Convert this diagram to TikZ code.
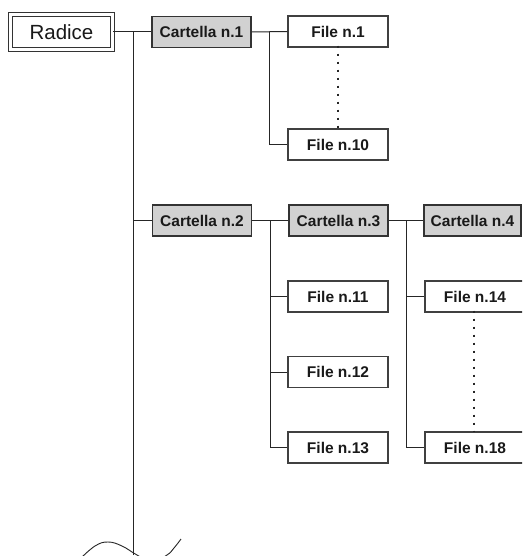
\documentclass[tikz,border=0pt]{standalone}
\usepackage{fontspec}
\setmainfont{Liberation Sans}
\begin{document}
\begin{tikzpicture}[x=1pt,y=-1pt,
  conn/.style={draw=black!85, line width=1pt},
  dotline/.style={draw=black!85, line width=2pt, dash pattern=on 2pt off 6pt},
  folder/.style={draw=black!80, line width=1.9pt, fill=black!18, minimum width=99pt, minimum height=31pt, inner sep=0pt, font=\fontsize{15.5}{17}\selectfont\bfseries, text=black!90},
  filebox/.style={draw=black!75, line width=1.4pt, fill=white, minimum width=100pt, minimum height=31pt, inner sep=0pt, font=\fontsize{15.5}{17}\selectfont\bfseries, text=black!90},
  rootbox/.style={draw=black!80, line width=0.9pt, double=white, double distance=2.6pt, minimum width=102pt, minimum height=35pt, inner sep=0pt, font=\fontsize{20.5}{22}\selectfont, text=black!90}
]
\useasboundingbox (0,0) rectangle (522,556);
\clip (0,0) rectangle (522,556);
\fill[white] (0,0) rectangle (522,556);

% nodes
\node[rootbox] (R) at (61.5,32) {Radice};
\node[folder] (C1) at (201.5,32) {Cartella n.1};
\node[filebox] (F1) at (338,31.5) {File n.1};
\node[filebox] (F10) at (338,144.5) {File n.10};
\node[folder] (C2) at (202,220.5) {Cartella n.2};
\node[folder] (C3) at (338.5,220.5) {Cartella n.3};
\node[folder, minimum width=97pt] (C4) at (472.5,220.5) {Cartella n.4};
\node[filebox] (F11) at (338,296.5) {File n.11};
\node[filebox] (F12) at (338,372) {File n.12};
\node[filebox] (F13) at (338,447.5) {File n.13};
\node[filebox] (F14) at (475,296.5) {File n.14};
\node[filebox] (F18) at (475,447.5) {File n.18};

% junction coordinates
\coordinate (tbot) at (133,555);
\coordinate (j1) at (269,32);
\coordinate (j2) at (270,220.5);
\coordinate (j3) at (406,220.5);

% trunk
\draw[conn] (R.east) -- (C1.west);
\draw[conn] (tbot) -- (tbot |- R.east);
\draw[conn] (tbot |- C2.west) -- (C2.west);

% Cartella n.1 branch
\draw[conn] (C1.east) -- (F1.west);
\draw[conn] (j1) |- (F10.west);
\draw[dotline] ([yshift=2pt]F1.south) -- (F10.north);

% Cartella n.2 -> n.3 -> n.4
\draw[conn] (C2.east) -- (C3.west);
\draw[conn] (C3.east) -- (C4.west);

% Cartella n.3 files
\draw[conn] (j2) |- (F13.west);
\draw[conn] (j2 |- F11.west) -- (F11.west);
\draw[conn] (j2 |- F12.west) -- (F12.west);

% Cartella n.4 files
\draw[conn] (j3) |- (F18.west);
\draw[conn] (j3 |- F14.west) -- (F14.west);
\draw[dotline] ([xshift=-1pt,yshift=2pt]F14.south) -- ([xshift=-1pt]F18.north);

% break wave at bottom of trunk
\draw[black!85, line width=0.9pt] plot[smooth, tension=0.7] coordinates {(80,559) (95,546) (108,542) (122,546) (137,555) (152,562) (167,555) (174,548) (181,539)};
\end{tikzpicture}
\end{document}
